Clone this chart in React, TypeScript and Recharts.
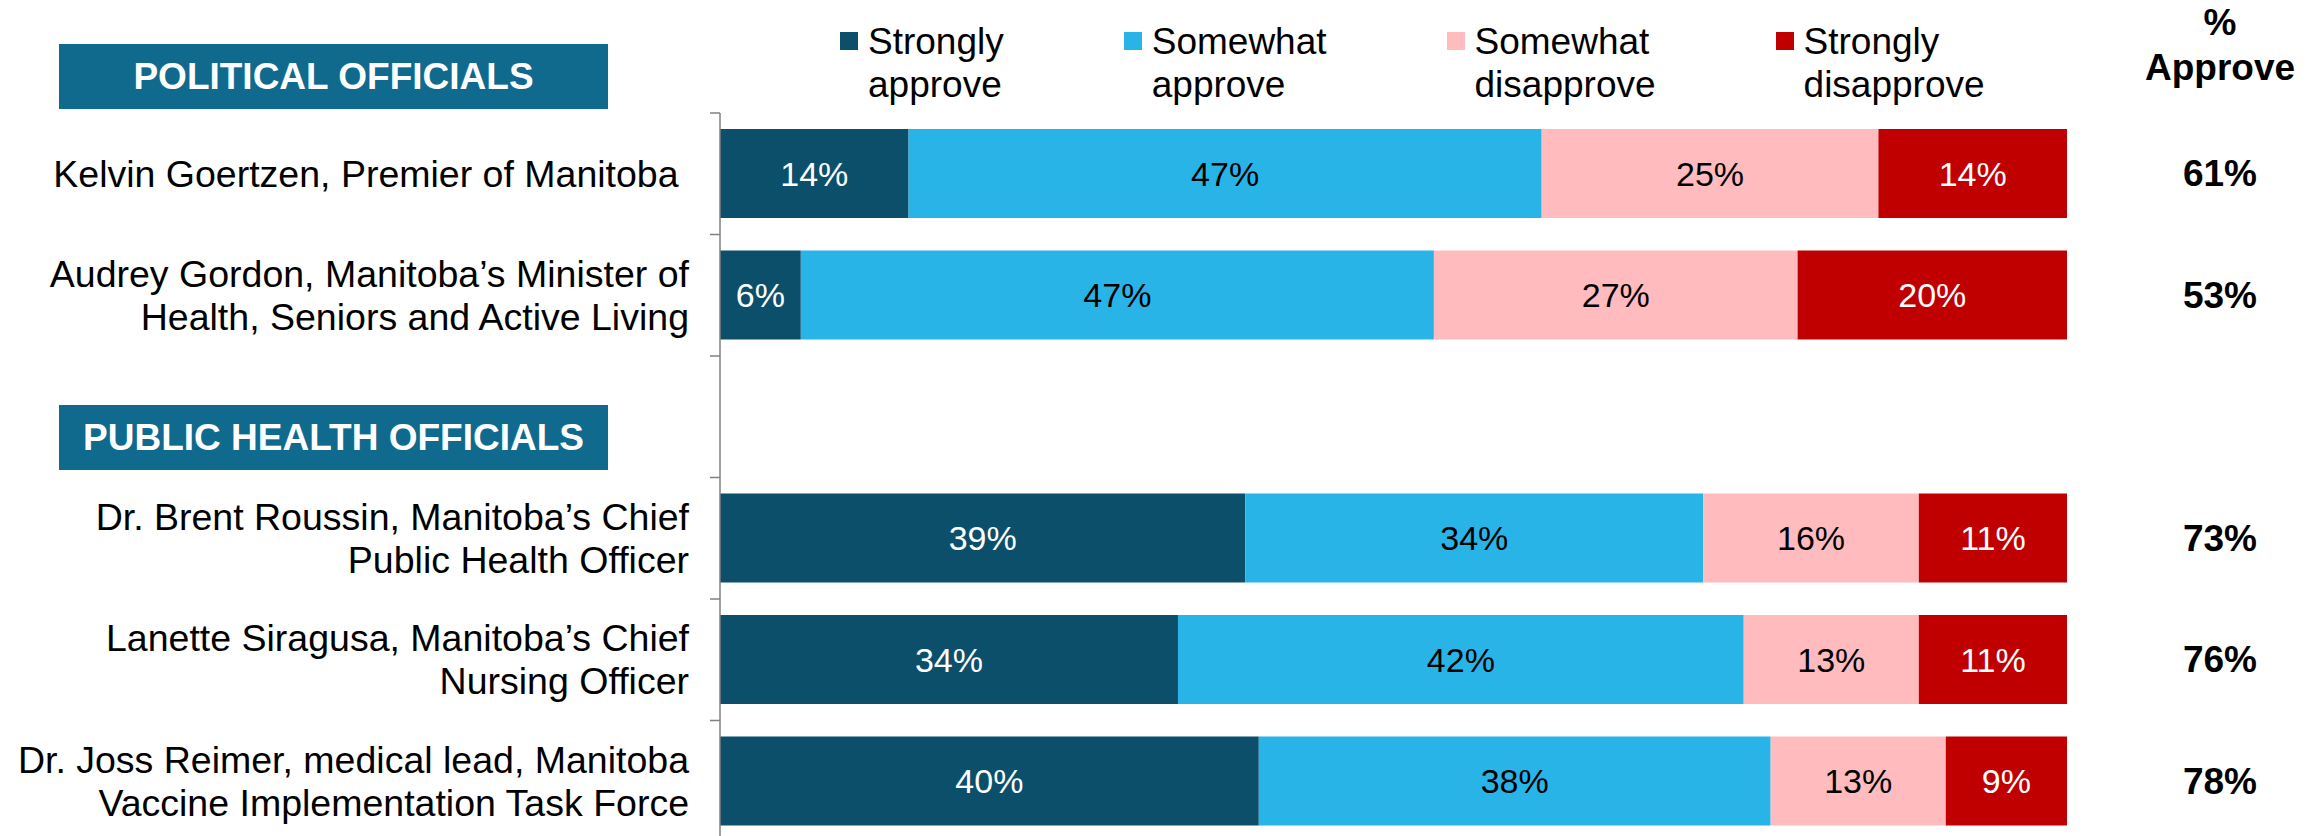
import { BarChart, Bar, XAxis, YAxis, LabelList } from 'recharts';

// rows, top to bottom; the empty row holds the second section header
const officials = [
  'Kelvin Goertzen, Premier of Manitoba ',
  'Audrey Gordon, Manitoba\u2019s Minister of\nHealth, Seniors and Active Living',
  '',
  'Dr. Brent Roussin, Manitoba\u2019s Chief\nPublic Health Officer',
  'Lanette Siragusa, Manitoba\u2019s Chief\nNursing Officer',
  'Dr. Joss Reimer, medical lead, Manitoba\nVaccine Implementation Task Force',
];

const stronglyApprove = [14, 6, null, 39, 34, 40];
const somewhatApprove = [47, 47, null, 34, 42, 38];
const somewhatDisapprove = [25, 27, null, 16, 13, 13];
const stronglyDisapprove = [14, 20, null, 11, 11, 9];
const percentApprove = [61, 53, null, 73, 76, 78];

const sectionHeaders = ['POLITICAL OFFICIALS', 'PUBLIC HEALTH OFFICIALS'];

const SERIES = [
  { key: 'sa', name: 'Strongly\napprove', color: '#0B4F6B', text: '#FFFFFF', values: stronglyApprove },
  { key: 'swa', name: 'Somewhat\napprove', color: '#29B4E8', text: '#000000', values: somewhatApprove },
  { key: 'swd', name: 'Somewhat\ndisapprove', color: '#FFBBBD', text: '#000000', values: somewhatDisapprove },
  { key: 'sd', name: 'Strongly\ndisapprove', color: '#C00000', text: '#FFFFFF', values: stronglyDisapprove },
];

const data = officials.map((name, i) => {
  const row: any = { name, approve: percentApprove[i] };
  SERIES.forEach((s) => {
    row[s.key] = s.values[i];
  });
  return row;
});

const FONT = '"Liberation Sans", Arial, sans-serif';
const AXIS = '#808080';
const TICK_MARGIN = 31;

function CategoryTick(props: any) {
  const { x, y, payload, index } = props;
  const lines = String(payload.value).split('\n');
  const half = payload.offset ?? 60.75;
  const axisX = x + TICK_MARGIN;
  return (
    <g>
      <line x1={axisX - 10} x2={axisX} y1={y - half} y2={y - half} stroke={AXIS} strokeWidth={1.5} />
      {index === officials.length - 1 && (
        <line x1={axisX - 10} x2={axisX} y1={y + half} y2={y + half} stroke={AXIS} strokeWidth={1.5} />
      )}
      <text textAnchor="end" fontSize={37.5} fontFamily={FONT} fill="#000" style={{ whiteSpace: 'pre' }}>
        {lines.map((l, i) => (
          <tspan key={i} x={x} y={y + (i - (lines.length - 1) / 2) * 43 + 13}>
            {l}
          </tspan>
        ))}
      </text>
    </g>
  );
}

function ApproveLabel(props: any) {
  const { value } = props;
  if (value == null) return null;
  const vb = props.viewBox || props;
  return (
    <text
      x={2220}
      y={vb.y + vb.height / 2}
      textAnchor="middle"
      dominantBaseline="central"
      fontSize={37}
      fontWeight="bold"
      fontFamily={FONT}
      fill="#000"
    >
      {`${value}%`}
    </text>
  );
}

const headerBox = (top: number): React.CSSProperties => ({
  position: 'absolute',
  left: 59,
  top,
  width: 549,
  height: 65,
  background: '#106A8E',
  color: '#fff',
  fontWeight: 'bold',
  fontSize: 37,
  lineHeight: '65px',
  textAlign: 'center',
});

export default function App() {
  return (
    <div
      style={{
        position: 'absolute',
        left: 0,
        top: 0,
        width: 2323,
        height: 836,
        overflow: 'hidden',
        background: '#fff',
        fontFamily: FONT,
      }}
    >
      <BarChart
        width={2323}
        height={842}
        data={data}
        layout="vertical"
        margin={{ top: 113, right: 256, bottom: 0, left: 0 }}
      >
        <XAxis type="number" domain={[0, 100]} hide />
        <YAxis
          type="category"
          dataKey="name"
          width={720}
          interval={0}
          tickSize={0}
          tickMargin={TICK_MARGIN}
          tickLine={false}
          axisLine={{ stroke: AXIS, strokeWidth: 1.5 }}
          tick={<CategoryTick />}
        />
        {SERIES.map((s, si) => (
          <Bar key={s.key} dataKey={s.key} stackId="a" fill={s.color} barSize={89} isAnimationActive={false}>
            <LabelList
              dataKey={s.key}
              position="center"
              fill={s.text}
              fontSize={34}
              fontFamily={FONT}
              formatter={(v: any) => (v == null ? '' : `${v}%`)}
            />
            {si === SERIES.length - 1 && <LabelList dataKey="approve" content={<ApproveLabel />} />}
          </Bar>
        ))}
      </BarChart>

      <div style={headerBox(44)}>{sectionHeaders[0]}</div>
      <div style={headerBox(405)}>{sectionHeaders[1]}</div>

      <div style={{ position: 'absolute', left: 840, top: 20, display: 'flex', gap: 120 }}>
        {SERIES.map((s) => (
          <div key={s.key} style={{ display: 'flex', alignItems: 'flex-start' }}>
            <div style={{ width: 18, height: 18, background: s.color, marginTop: 12, marginRight: 10 }} />
            <div style={{ fontSize: 37, lineHeight: '43px', whiteSpace: 'pre', color: '#000' }}>{s.name}</div>
          </div>
        ))}
      </div>

      <div
        style={{
          position: 'absolute',
          left: 2120,
          width: 200,
          top: 0,
          textAlign: 'center',
          fontSize: 37,
          fontWeight: 'bold',
          lineHeight: '45px',
          color: '#000',
        }}
      >
        %<br />Approve
      </div>
    </div>
  );
}
